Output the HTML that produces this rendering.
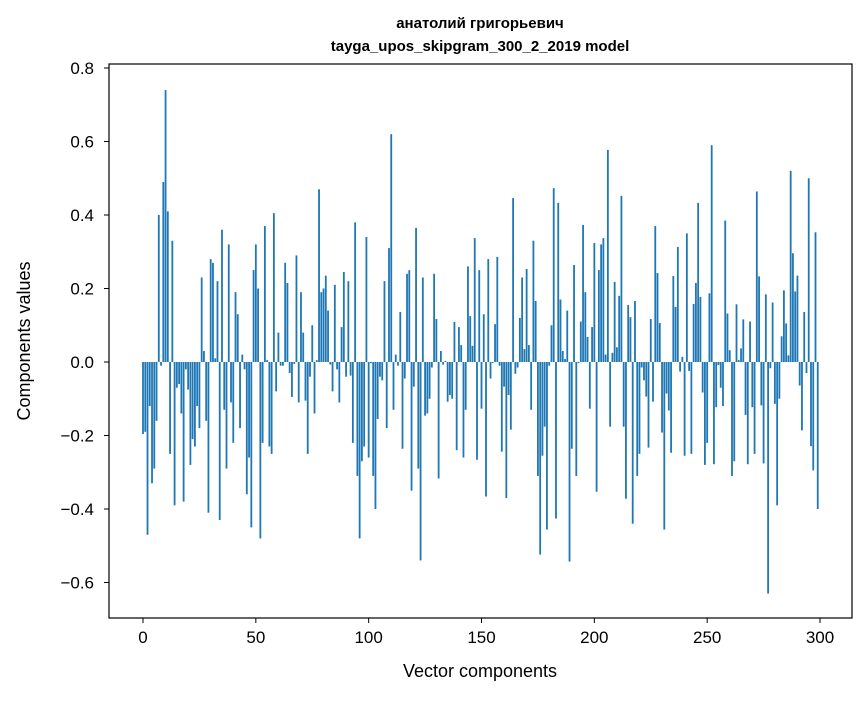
<!DOCTYPE html>
<html><head><meta charset="utf-8"><style>
body{margin:0;background:#fff;}
svg text{font-family:"Liberation Sans","DejaVu Sans",sans-serif;fill:#000;}
</style></head><body>
<svg id="chart" width="867" height="696" xmlns="http://www.w3.org/2000/svg">
<rect width="867" height="696" fill="#fff"/>
<text x="480" y="28" text-anchor="middle" font-size="15" font-weight="bold">анатолий григорьевич</text>
<text x="480" y="51" text-anchor="middle" font-size="15" font-weight="bold">tayga_upos_skipgram_300_2_2019 model</text>
<g id="bars"></g>
<g id="yticks"></g>
<g id="xticks"></g>
<rect x="109" y="64" width="743" height="554" fill="none" stroke="#000" stroke-width="1.2"/>
<text x="480" y="677" text-anchor="middle" font-size="18">Vector components</text>
<text transform="translate(30,341) rotate(-90)" text-anchor="middle" font-size="18">Components values</text>
</svg>
<script>
const values = [
-0.196,-0.19,-0.47,-0.12,-0.33,-0.29,-0.16,0.40,-0.01,0.49,0.74,0.41,-0.25,0.33,-0.39,-0.07,-0.06,-0.14,-0.38,-0.02,
-0.075,-0.28,-0.21,-0.23,-0.12,-0.18,0.23,0.03,-0.16,-0.41,0.28,0.27,0.01,0.22,-0.43,0.36,-0.13,-0.29,0.32,-0.11,
-0.22,0.19,0.13,-0.18,0.02,-0.02,-0.36,-0.26,-0.45,0.25,
0.32,0.20,-0.48,-0.22,0.37,0.005,-0.23,-0.25,0.405,-0.08,0.08,-0.01,-0.01,0.27,0.215,-0.03,-0.095,-0.005,0.29,-0.11,
0.19,0.08,-0.105,-0.25,-0.04,0.10,-0.14,0.005,0.47,0.19,0.20,0.235,0.14,-0.007,-0.08,0.21,-0.02,-0.11,0.095,0.245,
-0.04,0.22,-0.037,-0.22,0.38,-0.31,-0.48,-0.27,-0.23,0.34,
-0.26,-0.003,-0.31,-0.40,-0.155,-0.04,-0.05,0.22,-0.18,0.31,0.62,-0.13,0.02,-0.01,0.136,-0.236,-0.045,0.24,0.25,-0.35,
-0.067,0.365,-0.29,-0.54,0.23,-0.146,-0.14,-0.10,-0.015,0.24,0.117,-0.317,0.03,-0.007,0.003,-0.108,-0.09,-0.10,0.109,-0.24,
0.095,0.046,-0.26,-0.13,0.26,0.125,0.044,0.337,-0.266,0.25,
-0.127,0.13,-0.366,0.28,-0.045,-0.003,0.103,0.286,-0.01,-0.244,-0.067,-0.37,-0.09,-0.184,0.446,-0.032,-0.015,0.12,0.23,0.035,
0.253,0.046,-0.13,0.33,0.166,-0.31,-0.524,-0.255,-0.176,-0.456,-0.01,0.10,0.473,-0.426,0.433,0.17,0.03,0.008,0.14,-0.543,
-0.236,0.264,-0.31,-0.003,0.11,0.373,0.19,0.068,-0.127,0.095,
0.324,-0.353,0.25,0.32,0.337,0.02,0.577,-0.176,0.025,0.218,0.04,0.18,0.452,-0.176,-0.372,0.155,0.122,-0.44,0.166,-0.31,
-0.25,-0.015,-0.05,-0.094,-0.233,0.117,-0.108,0.37,0.242,0.106,-0.192,-0.456,-0.086,-0.132,-0.247,0.234,0.15,0.313,-0.026,0.014,
-0.255,0.35,-0.024,-0.25,0.158,0.215,0.433,0.177,-0.083,-0.28,
-0.22,0.187,0.59,-0.278,-0.123,-0.008,-0.07,-0.12,0.385,0.132,0.032,-0.31,-0.27,0.157,0.005,0.037,0.116,-0.144,-0.278,0.11,
-0.123,-0.25,0.464,0.233,-0.118,-0.276,0.184,-0.63,-0.017,0.162,-0.114,-0.39,-0.10,0.07,0.195,0.105,0.018,0.52,0.296,0.192,
0.235,-0.064,-0.186,0.136,-0.03,0.5,-0.229,-0.295,0.353,-0.40
];
const yTicks = [-0.6,-0.4,-0.2,0.0,0.2,0.4,0.6,0.8];
const xTicks = [0,50,100,150,200,250,300];

const X0=143, XS=2.2567, Y0=362, YS=367.5;
function xs(v){return X0+v*XS;}
function ys(v){return Y0-v*YS;}
const NS="http://www.w3.org/2000/svg";
const bars=document.getElementById('bars');
values.forEach((v,i)=>{
  const r=document.createElementNS(NS,'rect');
  const w=0.8*XS;
  r.setAttribute('x',xs(i)-w/2);
  r.setAttribute('width',w);
  r.setAttribute('y',Math.min(ys(v),ys(0)));
  r.setAttribute('height',Math.abs(ys(v)-ys(0)));
  r.setAttribute('fill','#1f77b4');
  
  
  bars.appendChild(r);
});
const yg=document.getElementById('yticks');
yTicks.forEach(t=>{
  const y=ys(t);
  const l=document.createElementNS(NS,'line');
  l.setAttribute('x1',104);l.setAttribute('x2',109);l.setAttribute('y1',y);l.setAttribute('y2',y);
  l.setAttribute('stroke','#000');
  
  
  yg.appendChild(l);
  const tx=document.createElementNS(NS,'text');
  tx.setAttribute('x',94);tx.setAttribute('y',y+6);tx.setAttribute('text-anchor','end');tx.setAttribute('font-size','17');
  tx.textContent=(t<0?'\u2212':'')+Math.abs(t).toFixed(1);
  
  
  yg.appendChild(tx);
});
const xg=document.getElementById('xticks');
xTicks.forEach(t=>{
  const x=xs(t);
  const l=document.createElementNS(NS,'line');
  l.setAttribute('x1',x);l.setAttribute('x2',x);l.setAttribute('y1',618);l.setAttribute('y2',623);
  l.setAttribute('stroke','#000');
  
  
  xg.appendChild(l);
  const tx=document.createElementNS(NS,'text');
  tx.setAttribute('x',x);tx.setAttribute('y',643);tx.setAttribute('text-anchor','middle');tx.setAttribute('font-size','17');
  tx.textContent=String(t);
  
  
  xg.appendChild(tx);
});
</script>
</body></html>
